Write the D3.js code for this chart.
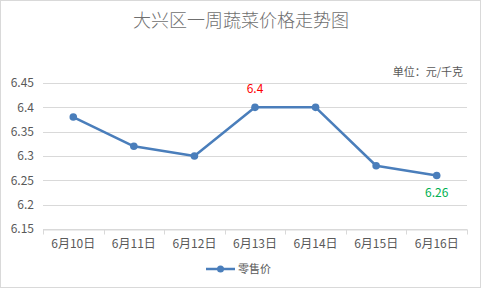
<!DOCTYPE html>
<html>
<head>
<meta charset="utf-8">
<script src="https://cdn.jsdelivr.net/npm/d3@7"></script>
<style>
  body { margin: 0; background: #fff; }
  svg text { font-family: "Noto Sans CJK SC", "Noto Sans", sans-serif; fill: #595959; }
</style>
</head>
<body>
<div id="chart"></div>
<script>
var days = ["6月10日", "6月11日", "6月12日", "6月13日", "6月14日", "6月15日", "6月16日"];
var prices = [6.38, 6.32, 6.30, 6.40, 6.40, 6.28, 6.26];
var yTicks = [6.15, 6.2, 6.25, 6.3, 6.35, 6.4, 6.45];
var seriesName = "零售价";
var title = "大兴区一周蔬菜价格走势图";
var unit = "单位：元/千克";

var W = 482, H = 290;
var margin = {top: 83, right: 15, bottom: 61, left: 43};
var width = W - margin.left - margin.right,
    height = H - margin.top - margin.bottom;

var svg = d3.select("#chart").append("svg")
    .attr("width", W)
    .attr("height", H);

svg.append("rect")
    .attr("x", 0.5).attr("y", 0.5)
    .attr("width", W - 2).attr("height", H - 3)
    .attr("fill", "#fff")
    .attr("stroke", "#d9d9d9");

svg.append("text")
    .attr("x", W / 2).attr("y", 27)
    .attr("text-anchor", "middle")
    .attr("font-size", 18)
    .attr("font-weight", 300)
    .style("fill", "#6f6f6f")
    .text(title);

svg.append("text")
    .attr("x", 463).attr("y", 76)
    .attr("text-anchor", "end")
    .attr("font-size", 11)
    .text(unit);

var g = svg.append("g")
    .attr("transform", "translate(" + margin.left + "," + margin.top + ")");

var x = d3.scaleBand().domain(days).range([0, width]);
var y = d3.scaleLinear().domain([6.15, 6.45]).range([height, 0]);

// grid
g.selectAll(".grid").data(yTicks).enter().append("line")
    .attr("x1", 0).attr("x2", width)
    .attr("y1", function(d) { return Math.round(y(d)) + 0.5; })
    .attr("y2", function(d) { return Math.round(y(d)) + 0.5; })
    .attr("stroke", "#d9d9d9");

// y labels
g.selectAll(".ylab").data(yTicks).enter().append("text")
    .attr("x", -9)
    .attr("y", function(d) { return y(d); })
    .attr("dy", "0.35em")
    .attr("text-anchor", "end")
    .attr("font-size", 12)
    .text(function(d) { return d3.format("")(+d.toFixed(2)); });

// x axis
var xAxis = d3.axisBottom(x).tickSize(0).tickPadding(10);
var xg = g.append("g")
    .attr("transform", "translate(0," + (Math.round(height) + 0.5) + ")")
    .call(xAxis);
xg.select(".domain").attr("stroke", "#d9d9d9");
xg.selectAll("text").attr("font-size", 12).attr("fill", "#595959")
    .style("font-family", "'Noto Sans CJK SC', sans-serif");
var bounds = days.map(function(d) { return x(d); }).concat([width]);
xg.selectAll(".bt").data(bounds).enter().append("line")
    .attr("x1", function(d) { return Math.round(d) + 0.5; })
    .attr("x2", function(d) { return Math.round(d) + 0.5; })
    .attr("y1", 0).attr("y2", 5)
    .attr("stroke", "#d9d9d9");

var color = "#4a7ebb";
var cx = function(d, i) { return x(days[i]) + x.bandwidth() / 2; };

var line = d3.line()
    .x(function(d, i) { return cx(d, i); })
    .y(function(d) { return y(d); });

g.append("path")
    .datum(prices)
    .attr("d", line)
    .attr("fill", "none")
    .attr("stroke", color)
    .attr("stroke-width", 2.5)
    .attr("stroke-linejoin", "round");

g.selectAll(".dot").data(prices).enter().append("circle")
    .attr("cx", cx)
    .attr("cy", function(d) { return y(d); })
    .attr("r", 3.8)
    .attr("fill", color);

// data labels: max and min
var iMax = prices.indexOf(d3.max(prices));
var iMin = prices.indexOf(d3.min(prices));
g.append("text")
    .attr("x", cx(null, iMax))
    .attr("y", y(prices[iMax]) - 14)
    .attr("text-anchor", "middle")
    .attr("font-size", 12)
    .style("fill", "#ff0000")
    .text(prices[iMax]);
g.append("text")
    .attr("x", cx(null, iMin))
    .attr("y", y(prices[iMin]) + 22)
    .attr("text-anchor", "middle")
    .attr("font-size", 12)
    .style("fill", "#00b050")
    .text(prices[iMin]);

// legend
var lg = svg.append("g").attr("transform", "translate(206,269)");
lg.append("line").attr("x1", 0).attr("x2", 29).attr("y1", 0).attr("y2", 0)
    .attr("stroke", color).attr("stroke-width", 2.5);
lg.append("circle").attr("cx", 14.5).attr("cy", 0).attr("r", 3.5).attr("fill", color);
lg.append("text").attr("x", 32).attr("y", 0).attr("dy", "0.35em")
    .attr("font-size", 11).text(seriesName);
</script>
</body>
</html>
